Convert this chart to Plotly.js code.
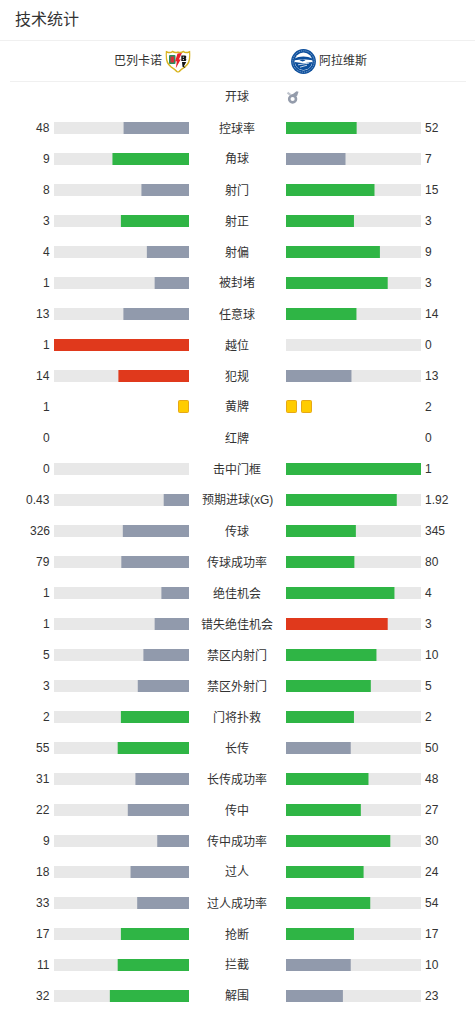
<!DOCTYPE html>
<html><head><meta charset="utf-8">
<script src="https://cdn.plot.ly/plotly-3.0.1.min.js"></script>
<style>html,body{margin:0;padding:0;background:#fff}#c{width:475px;height:1012px}</style>
</head><body><div id="c"></div>
<script>
const title = '技术统计';
const teamHome = '巴列卡诺', teamAway = '阿拉维斯';
const labels = ['开球','控球率','角球','射门','射正','射偏','被封堵','任意球','越位','犯规','黄牌','红牌','击中门框','预期进球(xG)','传球','传球成功率','绝佳机会','错失绝佳机会','禁区内射门','禁区外射门','门将扑救','长传','长传成功率','传中','传中成功率','过人','过人成功率','抢断','拦截','解围'];
const homeVals = [null,48,9,8,3,4,1,13,1,14,1,0,0,0.43,326,79,1,1,5,3,2,55,31,22,9,18,33,17,11,32];
const awayVals = [null,52,7,15,3,9,3,14,0,13,2,0,1,1.92,345,80,4,3,10,5,2,50,48,27,30,24,54,17,10,23];
const homeText = homeVals.map(v => v === null ? '' : String(v));
const awayText = awayVals.map(v => v === null ? '' : String(v));
const worseWhenHigher = ['越位','犯规','错失绝佳机会'];
const noBar = ['开球','黄牌','红牌'];
const cardRow = '黄牌';

const GREEN = '#2fb545', GREY = '#919aac', RED = '#e0391c', TRACK = '#e8e8e8', TEXT = '#333333';
const FONT = '"Liberation Sans","Noto Sans CJK SC",sans-serif';
const W = 475, H = 1012, ROW0 = 97, ROWH = 31, BARH = 12;
const L0 = 54, L1 = 189, R0 = 286, R1 = 421;
const SPAN = L1 - L0;

const idx = labels.map((_, i) => i);
const hasBar = labels.map(l => !noBar.includes(l));
const share = (a, b, pad) => {
  const s = (a + b) > 0 ? a / (a + b) : 0;
  return s > 0 && s < 1 ? s + pad / SPAN : s;
};
const homeShare = idx.map(i => hasBar[i] ? share(homeVals[i], awayVals[i], 0.6) : null);
const awayShare = idx.map(i => hasBar[i] ? share(awayVals[i], homeVals[i], 0.45) : null);
const col = (mine, other, l) => {
  if (mine < other) return GREY;
  return worseWhenHigher.includes(l) ? RED : GREEN;
};
const homeCol = idx.map(i => col(homeVals[i], awayVals[i], labels[i]));
const awayCol = idx.map(i => col(awayVals[i], homeVals[i], labels[i]));
const trackX = hasBar.map(h => h ? 1 : null);

function bar(x, color, xaxis) {
  return {type:'bar', orientation:'h', y:idx, x:x, width:BARH / ROWH, xaxis:xaxis, yaxis:'y',
    marker:{color:color, line:{width:0}}, hoverinfo:'skip', showlegend:false};
}
const cardRowI = labels.indexOf(cardRow);
function cards(n, xaxis) {
  const ks = Array.from({length:n}, (_, k) => k);
  return {type:'bar', orientation:'h', y:ks.map(() => cardRowI - 0.016), x:ks.map(() => 10 / SPAN),
    base:ks.map(k => (k * 15 + 0.5) / SPAN), width:12 / ROWH, xaxis:xaxis, yaxis:'y',
    marker:{color:'#ffcc00', line:{color:'#e6a817', width:1}, cornerradius:1},
    hoverinfo:'skip', showlegend:false};
}
const data = [
  bar(trackX, TRACK, 'x'), bar(homeShare, homeCol, 'x'),
  bar(trackX, TRACK, 'x2'), bar(awayShare, awayCol, 'x2'),
  cards(homeVals[cardRowI], 'x'), cards(awayVals[cardRowI], 'x2')
];

const ann = [];
function txt(xpx, y, yref, s, anchor, size, color) {
  ann.push({xref:'paper', x:xpx / W, yref:yref, y:y, text:s, showarrow:false, xanchor:anchor, yanchor:'middle',
    font:{family:FONT, size:size, color:color || TEXT}, borderpad:0, borderwidth:0});
}
idx.forEach(i => {
  txt(237, i, 'y', labels[i], 'center', 12);
  txt(50, i, 'y', homeText[i], 'right', 12);
  txt(425, i, 'y', awayText[i], 'left', 12);
});
const py = p => 1 - p / H;
txt(15, py(20), 'paper', title, 'left', 16);
txt(161.5, py(61), 'paper', teamHome, 'right', 12);
txt(319, py(61), 'paper', teamAway, 'left', 12);

const rayo = `<svg xmlns="http://www.w3.org/2000/svg" width="75" height="66" viewBox="0 0 25 22">
<path d="M.8 1.200C4 2.600 6 2.200 7 .9c1.600 1.300 3.600 1.500 5.500.7 1.900.8 3.900.6 5.500-.7 1 1.300 3 1.700 6.200.3.6 6 .3 12-5 15.400-2.500 1.500-4.500 2.600-6.700 5.600-2.200-3-4.200-4.100-6.700-5.600C.5 13.200.2 7.200.8 1.200z" fill="#fff" stroke="#d8b420" stroke-width="1.500"/>
<rect x="3.500" y="4.500" width="6.500" height="9" rx="1" fill="#2c8c5e"/><rect x="5" y="6" width="3.500" height="6" fill="#d22f3a"/>
<path d="M16.500 2.500l-3.200 6.500 2-.2-5 9 1-7-1.800.3L12 3z" fill="#e8202c"/>
<path d="M15.800 5h3.900c1.400 0 1.400 2.500.4 2.800 1 .3 1.100 2.800-.4 2.800h-3.900zM16.500 11.500h4.200L18.500 15.500l1.500 2-3-1.200z" fill="#141414"/>
<rect x="17.300" y="6.200" width="1.100" height="1" fill="#fff"/><rect x="17.300" y="8.600" width="1.100" height="1" fill="#fff"/></svg>`;
const alaves = `<svg xmlns="http://www.w3.org/2000/svg" width="75" height="75" viewBox="0 0 25 25">
<circle cx="12.500" cy="12.500" r="12.400" fill="#0d4f9c"/>
<circle cx="12.500" cy="12.500" r="9" fill="#fff"/>
<path d="M3.800 9.500c4-2.800 13-2.800 17.400 0v1.800c-5-1-12.400-1-17.400 0z" fill="#0d4f9c"/>
<path d="M3.800 13l8.700 1.200 8.700-1.200c-.4 4.400-4 8-8.700 8s-8.300-3.600-8.700-8z" fill="#0d4f9c"/>
<path d="M7 15.800l11-1.700M9 18.200l7-2" stroke="#dbe7f3" stroke-width=".9"/>
<path d="M8.500 11.200c1.800-1 4-1 6 .3l-3 .9z" fill="#0d4f9c"/>
<circle cx="12.500" cy="12.500" r="10.700" fill="none" stroke="#a9c4e2" stroke-width=".8" stroke-dasharray="1 .9"/></svg>`;
const whistle = `<svg xmlns="http://www.w3.org/2000/svg" width="39" height="42" viewBox="0 0 13 14">
<circle cx="6.600" cy="9" r="3.400" fill="none" stroke="#949cab" stroke-width="2.600"/>
<path d="M5 5.500L10.500 1.200 12.500 1.800 11.300 5.500 9.500 7z" fill="#949cab"/>
<path d="M1.500 2.600l3 2.300" stroke="#bfc4cd" stroke-width="2"/></svg>`;
const uri = s => 'data:image/svg+xml;charset=utf-8,' + encodeURIComponent(s);
const img = (s, x, y, w, h) => ({source:uri(s), xref:'paper', yref:'paper', x:x / W, y:py(y), sizex:w / W, sizey:h / H,
  xanchor:'left', yanchor:'top', sizing:'stretch', layer:'above'});

const line = (y, x0, x1) => ({type:'line', xref:'paper', yref:'paper', x0:x0 / W, x1:x1 / W, y0:py(y), y1:py(y),
  line:{color:'#f0f0f0', width:1}});

const layout = {
  width:W, height:H, margin:{l:0, r:0, t:0, b:0}, paper_bgcolor:'#fff', plot_bgcolor:'#fff',
  barmode:'overlay', showlegend:false, font:{family:FONT},
  xaxis:{domain:[L0 / W, L1 / W], range:[1, 0], visible:false, fixedrange:true},
  xaxis2:{domain:[R0 / W, R1 / W], range:[0, 1], visible:false, fixedrange:true},
  yaxis:{domain:[0, 1], range:[(H - ROW0) / ROWH, -ROW0 / ROWH], visible:false, fixedrange:true},
  annotations:ann,
  shapes:[line(40.5, 0, W), line(81.5, 10, 466)],
  images:[img(rayo, 165.5, 50.5, 25, 22), img(alaves, 291, 49, 25, 25), img(whistle, 286, 90, 13, 14)]
};
Plotly.newPlot('c', data, layout, {displayModeBar:false, staticPlot:true});
</script></body></html>
